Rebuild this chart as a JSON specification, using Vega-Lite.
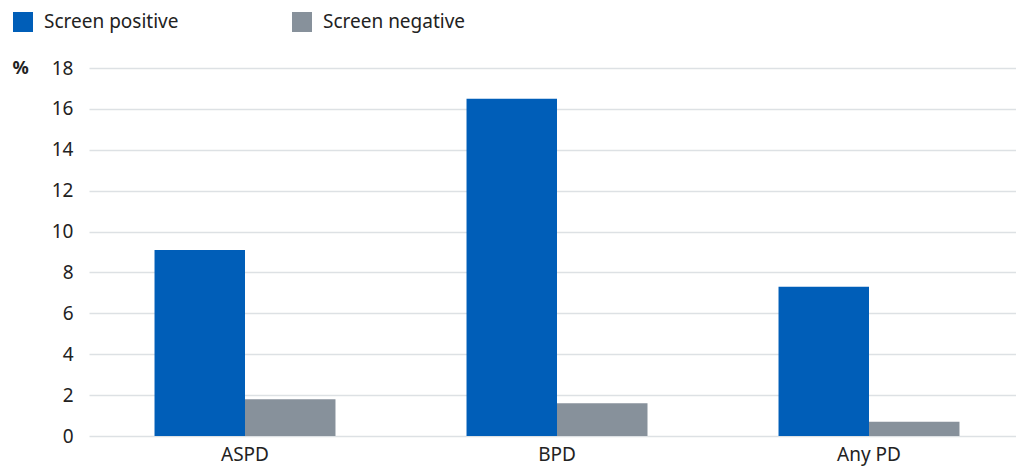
{
  "$schema": "https://vega.github.io/schema/vega-lite/v6.json",
  "width": 936,
  "height": 368,
  "autosize": {"type": "none"},
  "padding": {"left": 89, "top": 68, "right": 0, "bottom": 30},
  "background": "white",
  "config": {
    "font": "Noto Sans",
    "view": {"stroke": null},
    "axis": {"labelFont": "Noto Sans", "titleFont": "Noto Sans"}
  },
  "data": {
    "values": [
      {"category": "ASPD", "group": "Screen positive", "value": 9.1},
      {"category": "ASPD", "group": "Screen negative", "value": 1.8},
      {"category": "BPD", "group": "Screen positive", "value": 16.5},
      {"category": "BPD", "group": "Screen negative", "value": 1.6},
      {"category": "Any PD", "group": "Screen positive", "value": 7.3},
      {"category": "Any PD", "group": "Screen negative", "value": 0.7}
    ]
  },
  "mark": {"type": "bar"},
  "encoding": {
    "x": {
      "field": "category",
      "type": "nominal",
      "sort": ["ASPD", "BPD", "Any PD"],
      "scale": {"paddingInner": 0.42, "paddingOuter": 0.21},
      "axis": {
        "title": null,
        "labelAngle": 0,
        "domain": false,
        "ticks": false,
        "labelFontSize": 19,
        "labelColor": "#222222",
        "labelPadding": 9
      }
    },
    "xOffset": {
      "field": "group",
      "type": "nominal",
      "sort": ["Screen positive", "Screen negative"],
      "scale": {"paddingInner": 0, "paddingOuter": 0}
    },
    "y": {
      "field": "value",
      "type": "quantitative",
      "scale": {"domain": [0, 18]},
      "axis": {
        "title": "%",
        "titleAngle": 0,
        "titleAlign": "left",
        "titleBaseline": "middle",
        "titleX": -77,
        "titleY": 0,
        "titleFontSize": 18,
        "titleFontWeight": "bold",
        "titleColor": "#222222",
        "values": [0, 2, 4, 6, 8, 10, 12, 14, 16, 18],
        "domain": false,
        "ticks": false,
        "labelFontSize": 19,
        "labelColor": "#222222",
        "labelPadding": 16,
        "gridColor": "#dde1e4",
        "gridWidth": 1.5
      }
    },
    "color": {
      "field": "group",
      "type": "nominal",
      "sort": ["Screen positive", "Screen negative"],
      "scale": {
        "domain": ["Screen positive", "Screen negative"],
        "range": ["#005EB8", "#87919B"]
      },
      "legend": {
        "title": null,
        "orient": "none",
        "direction": "horizontal",
        "legendX": -76,
        "legendY": -56,
        "padding": 0,
        "symbolType": "square",
        "symbolSize": 400,
        "symbolStrokeWidth": 0,
        "symbolOpacity": 1,
        "labelFontSize": 19,
        "labelColor": "#222222",
        "labelOffset": 11,
        "columnPadding": 113
      }
    }
  }
}
